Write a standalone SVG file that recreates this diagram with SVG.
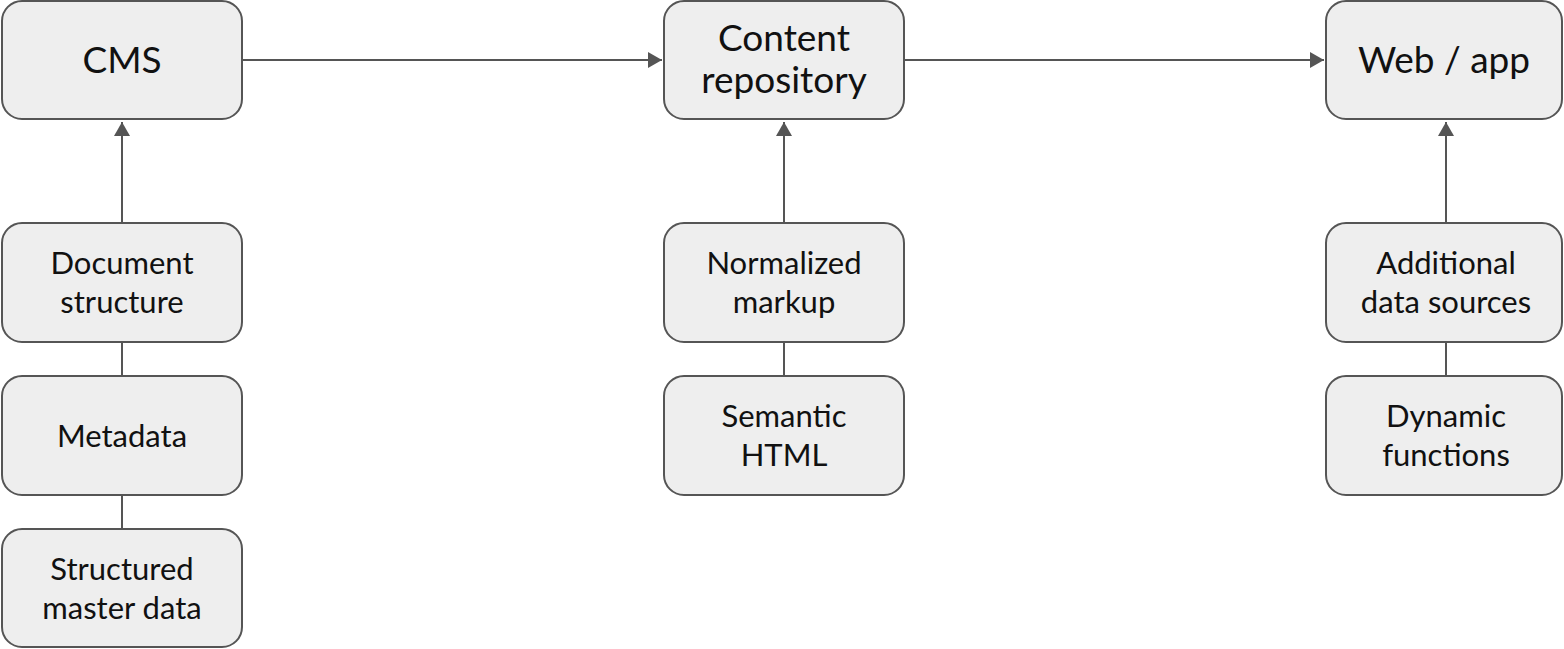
<svg xmlns="http://www.w3.org/2000/svg" width="1564" height="649" viewBox="0 0 1564 649">
<style>
.box{fill:#eeeeee;stroke:#555555;stroke-width:2}
.t{font-family:Lato,"Noto Sans",sans-serif;fill:#111;text-anchor:middle}
.big{font-size:37px}
.sm{font-size:31px}
.c{stroke:#555555;stroke-width:2;fill:none}
</style>
<defs>
<marker id="ah" markerWidth="16" markerHeight="18" refX="15" refY="9" orient="auto" markerUnits="userSpaceOnUse" viewBox="0 0 16 18">
<path d="M1,1 L15,9 L1,17 z" fill="#555555"/>
</marker>
</defs>
<g id="connectors">
<path class="c" d="M243,60 L662,60" marker-end="url(#ah)"/>
<path class="c" d="M905,60 L1324,60" marker-end="url(#ah)"/>
<path class="c" d="M122,222 L122,122" marker-end="url(#ah)"/>
<path class="c" d="M784,222 L784,122" marker-end="url(#ah)"/>
<path class="c" d="M1446,222 L1446,122" marker-end="url(#ah)"/>
<path class="c" d="M122,343 L122,376"/>
<path class="c" d="M122,496 L122,529"/>
<path class="c" d="M784,343 L784,376"/>
<path class="c" d="M1446,343 L1446,376"/>
</g>
<g id="cms"><rect class="box" x="2" y="1" width="240" height="118" rx="20"/><text class="t big" x="122" y="73">CMS</text></g>
<g id="repo"><rect class="box" x="664" y="1" width="240" height="118" rx="20"/><text class="t big" x="784" y="51">Content</text><text class="t big" x="784" y="93">repository</text></g>
<g id="web"><rect class="box" x="1326" y="1" width="236" height="118" rx="20"/><text class="t big" x="1444" y="73">Web / app</text></g>
<g id="docstruct"><rect class="box" x="2" y="223" width="240" height="119" rx="20"/><text class="t sm" x="122" y="274">Document</text><text class="t sm" x="122" y="313">structure</text></g>
<g id="metadata"><rect class="box" x="2" y="376" width="240" height="119" rx="20"/><text class="t sm" x="122" y="447">Metadata</text></g>
<g id="master"><rect class="box" x="2" y="529" width="240" height="118" rx="20"/><text class="t sm" x="122" y="580">Structured</text><text class="t sm" x="122" y="619">master data</text></g>
<g id="normalized"><rect class="box" x="664" y="223" width="240" height="119" rx="20"/><text class="t sm" x="784" y="274">Normalized</text><text class="t sm" x="784" y="313">markup</text></g>
<g id="semantic"><rect class="box" x="664" y="376" width="240" height="119" rx="20"/><text class="t sm" x="784" y="427">Semantic</text><text class="t sm" x="784" y="466">HTML</text></g>
<g id="additional"><rect class="box" x="1326" y="223" width="236" height="119" rx="20"/><text class="t sm" x="1446" y="274">Additional</text><text class="t sm" x="1446" y="313">data sources</text></g>
<g id="dynamic"><rect class="box" x="1326" y="376" width="236" height="119" rx="20"/><text class="t sm" x="1446" y="427">Dynamic</text><text class="t sm" x="1446" y="466">functions</text></g>
</svg>
